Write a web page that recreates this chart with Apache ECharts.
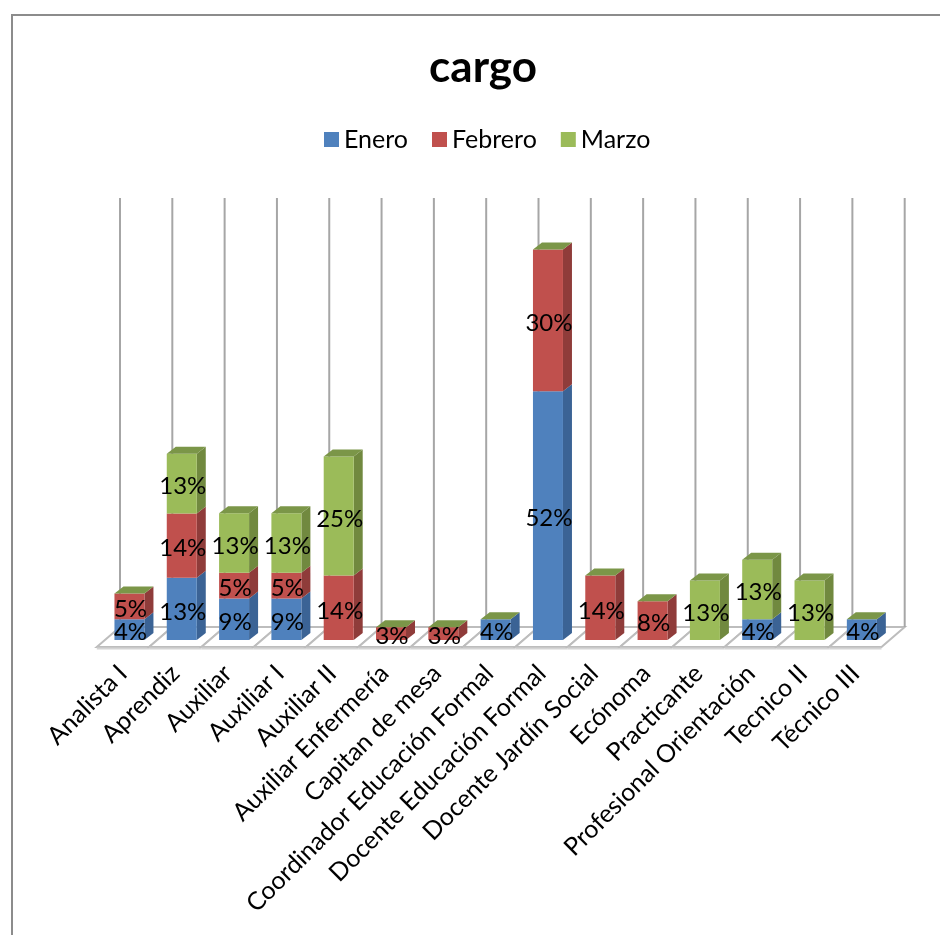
<!DOCTYPE html>
<html><head><meta charset="utf-8">
<style>html,body{margin:0;padding:0;background:#fff}#c{width:940px;height:935px}</style>
<script src="https://cdn.jsdelivr.net/npm/echarts@6/dist/echarts.min.js"></script>
</head><body><div id="c"></div>
<script>
const categories = ['Analista I','Aprendiz','Auxiliar','Auxiliar I','Auxiliar II','Auxiliar Enfermería','Capitan de mesa','Coordinador Educación Formal','Docente Educación Formal','Docente Jardín Social','Ecónoma','Practicante','Profesional Orientación','Tecnico II','Técnico III'];
const enero   = [4.35,13.04,8.7,8.7,0,0,0,4.35,52.17,0,0,0,4.35,0,4.35];
const febrero = [5.41,13.51,5.41,5.41,13.51,2.7,2.7,0,29.73,13.51,8.11,0,0,0,0];
const marzo   = [0,12.5,12.5,12.5,25,0,0,0,0,0,0,12.5,12.5,12.5,0];
const seriesNames = ['Enero','Febrero','Marzo'];
const FONT = 'Lato, Carlito, "Open Sans", sans-serif';
const colors = [
  {front:'#4f81bd', side:'#3b6395'},
  {front:'#c0504d', side:'#8f3c3a'},
  {front:'#9bbb59', side:'#71893f'}
];
const TOP_COLOR = '#7b9648';
const BAR_W = 30, DX = 9, DY = 7;

function stacked(idx){
  const all = [enero, febrero, marzo];
  return categories.map((c,i)=>{
    let base = 0;
    for(let k=0;k<idx;k++) base += all[k][i];
    return [i, base, base + all[idx][i]];
  });
}
function barRender(s){
  return function(params, api){
    const i = api.value(0), lo = api.value(1), hi = api.value(2);
    const a = api.coord([i, lo]), b = api.coord([i, hi]);
    const l = a[0]-BAR_W/2, r = a[0]+BAR_W/2, y0 = a[1], y1 = b[1];
    const c = colors[s], kids = [];
    if(hi > lo){
      kids.push({type:'polygon',shape:{points:[[r,y0],[r+DX,y0-DY],[r+DX,y1-DY],[r,y1]]},style:{fill:c.side}});
      kids.push({type:'rect',shape:{x:l,y:y1,width:BAR_W,height:y0-y1},style:{fill:c.front}});
      kids.push({type:'text',z2:100,style:{text:Math.round(hi-lo)+'%',x:a[0]+1,y:(y0+y1)/2+3,align:'center',verticalAlign:'middle',fill:'#000',font:'24px '+FONT}});
    }
    if(s === 2){
      kids.push({type:'polygon',z2:5,shape:{points:[[l,y1],[l+DX,y1-DY],[r+DX,y1-DY],[r,y1]]},style:{fill:TOP_COLOR}});
    }
    return {type:'group',children:kids};
  };
}
function wallRender(params, api){
  const i = api.value(0);
  const p0 = api.coord([i,0]), pT = api.coord([i,90]);
  const w = api.size([1,0])[0];
  const left = p0[0]-w/2, y = p0[1];
  const fx=-6.5, fy=7, bx=16.7, by=-13;
  const kids = [
    {type:'polygon',shape:{points:[[left+fx,y+fy],[left+bx,y+by],[left+w+bx,y+by],[left+w+fx,y+fy]]},style:{fill:'#fff',stroke:'#bdbdbd',lineWidth:2}},
    {type:'line',shape:{x1:left+fx,y1:y+fy+1.5,x2:left+w+fx,y2:y+fy+1.5},style:{stroke:'#d4d4d4',lineWidth:2}},
    {type:'line',shape:{x1:left+bx,y1:pT[1]+by,x2:left+bx,y2:y+by},style:{stroke:'#a6a6a6',lineWidth:2}}
  ];
  if(i === categories.length-1){
    kids.push({type:'line',shape:{x1:left+w+bx,y1:pT[1]+by,x2:left+w+bx,y2:y+by},style:{stroke:'#a6a6a6',lineWidth:2}});
  }
  return {type:'group',children:kids};
}
const chart = echarts.init(document.getElementById('c'),null,{renderer:'canvas'});
chart.setOption({
  animation:false,
  backgroundColor:'#fff',
  title:{text:'cargo',left:478,top:41,textAlign:'center',textStyle:{fontFamily:FONT,fontSize:44,fontWeight:'bold',color:'#000'}},
  legend:{data:seriesNames,left:319,top:122,icon:'rect',itemWidth:15,itemHeight:15,itemGap:24,selectedMode:false,
    textStyle:{fontFamily:FONT,fontSize:25,color:'#000'}},
  graphic:[{type:'rect',silent:true,z:-10,shape:{x:12,y:15,width:1000,height:1000},style:{fill:'none',stroke:'#8c8c8c',lineWidth:2}}],
  grid:{left:103.3,width:784.7,top:211,height:429,containLabel:false},
  xAxis:{type:'category',data:categories,axisLine:{show:false},axisTick:{show:false},splitLine:{show:false},
    axisLabel:{interval:0,rotate:45,margin:23,padding:[0,9,0,0],fontFamily:FONT,fontSize:25,color:'#000'}},
  yAxis:{type:'value',min:0,max:90,show:false,splitLine:{show:false}},
  series:[
    {type:'custom',name:'wall',silent:true,z:1,renderItem:wallRender,encode:{x:0,y:1},data:categories.map((c,i)=>[i,0]),clip:false},
    ...seriesNames.map((n,s)=>({type:'custom',name:n,silent:true,z:2,renderItem:barRender(s),
      itemStyle:{color:colors[s].front},encode:{x:0,y:[1,2]},data:stacked(s),clip:false}))
  ]
});
</script></body></html>
